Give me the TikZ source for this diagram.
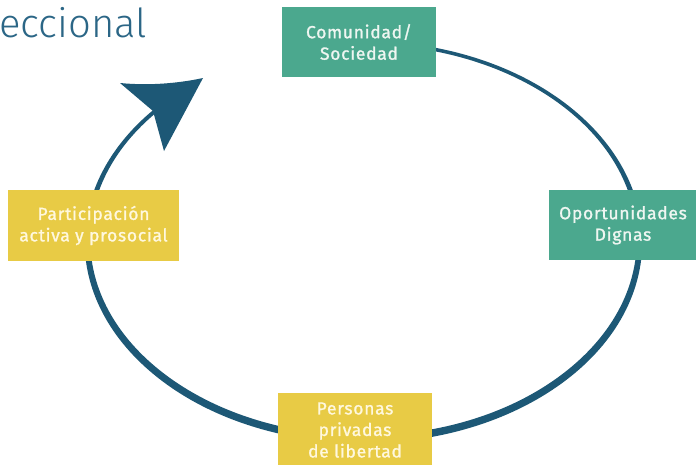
\documentclass[tikz,border=0pt]{standalone}
\usepackage{fontspec}
\setmainfont{Fira Sans}
\newfontfamily\boxfont[LetterSpace=4, FakeBold=1.2]{Fira Sans}
\newfontfamily\titlefont[UprightFont={* Light}]{Fira Sans}
\usetikzlibrary{calc}
\definecolor{ringblue}{HTML}{1D5876}
\definecolor{titleblue}{HTML}{2B6686}
\definecolor{boxgreen}{HTML}{4BA88E}
\definecolor{boxyellow}{HTML}{E8CB45}
\definecolor{txtgreen}{HTML}{EEF6F1}
\definecolor{txtyellow}{HTML}{FFF8DE}
\tikzset{
  box/.style={rectangle, inner sep=0pt, align=center, font={\boxfont\fontsize{17.5}{21.5}\selectfont}},
  greenbox/.style={box, fill=boxgreen, text=txtgreen},
  yellowbox/.style={box, fill=boxyellow, text=txtyellow},
  ring/.style={fill=ringblue},
  titletext/.style={inner sep=0pt, text=titleblue, font={\titlefont\fontsize{40}{44}\selectfont}}
}
\begin{document}
\begin{tikzpicture}[x=1pt,y=-1pt]
\useasboundingbox (0,0) rectangle (696,464);
\clip (0,0) rectangle (696,464);
\fill[white] (0,0) rectangle (696,464);
% ring with varying thickness (thin at top, thick at bottom)
\fill[ring] ($(363.5,242)+(278:278.75 and 201)$)
  arc[start angle=278, end angle=583, x radius=278.75, y radius=201]
  -- ($(363.5,240)+(583:273.25 and 195.5)$)
  arc[start angle=583, end angle=278, x radius=273.25, y radius=195.5] -- cycle;
% arrowhead
\fill[ring] (120,83) .. controls (150,86) and (180,83) .. (203,78)
  -- (164,151) -- (153,111) -- cycle;
% boxes
\node[greenbox, minimum width=154pt, minimum height=70pt] (com) at (359,42) {Comunidad/\\Sociedad};
\node[greenbox, minimum width=148pt, minimum height=70pt] (opo) at (623,225) {Oportunidades\\Dignas};
\node[yellowbox, minimum width=171pt, minimum height=71pt] (par) at (93.5,225.5) {Participación\\activa y prosocial};
\node[yellowbox, minimum width=154pt, minimum height=74pt] (per) at (355,430) {Personas\\privadas\\de libertad};
% title fragment
\node[titletext, anchor=base west] (tit) at (-1,37) {eccional};
\end{tikzpicture}
\end{document}
